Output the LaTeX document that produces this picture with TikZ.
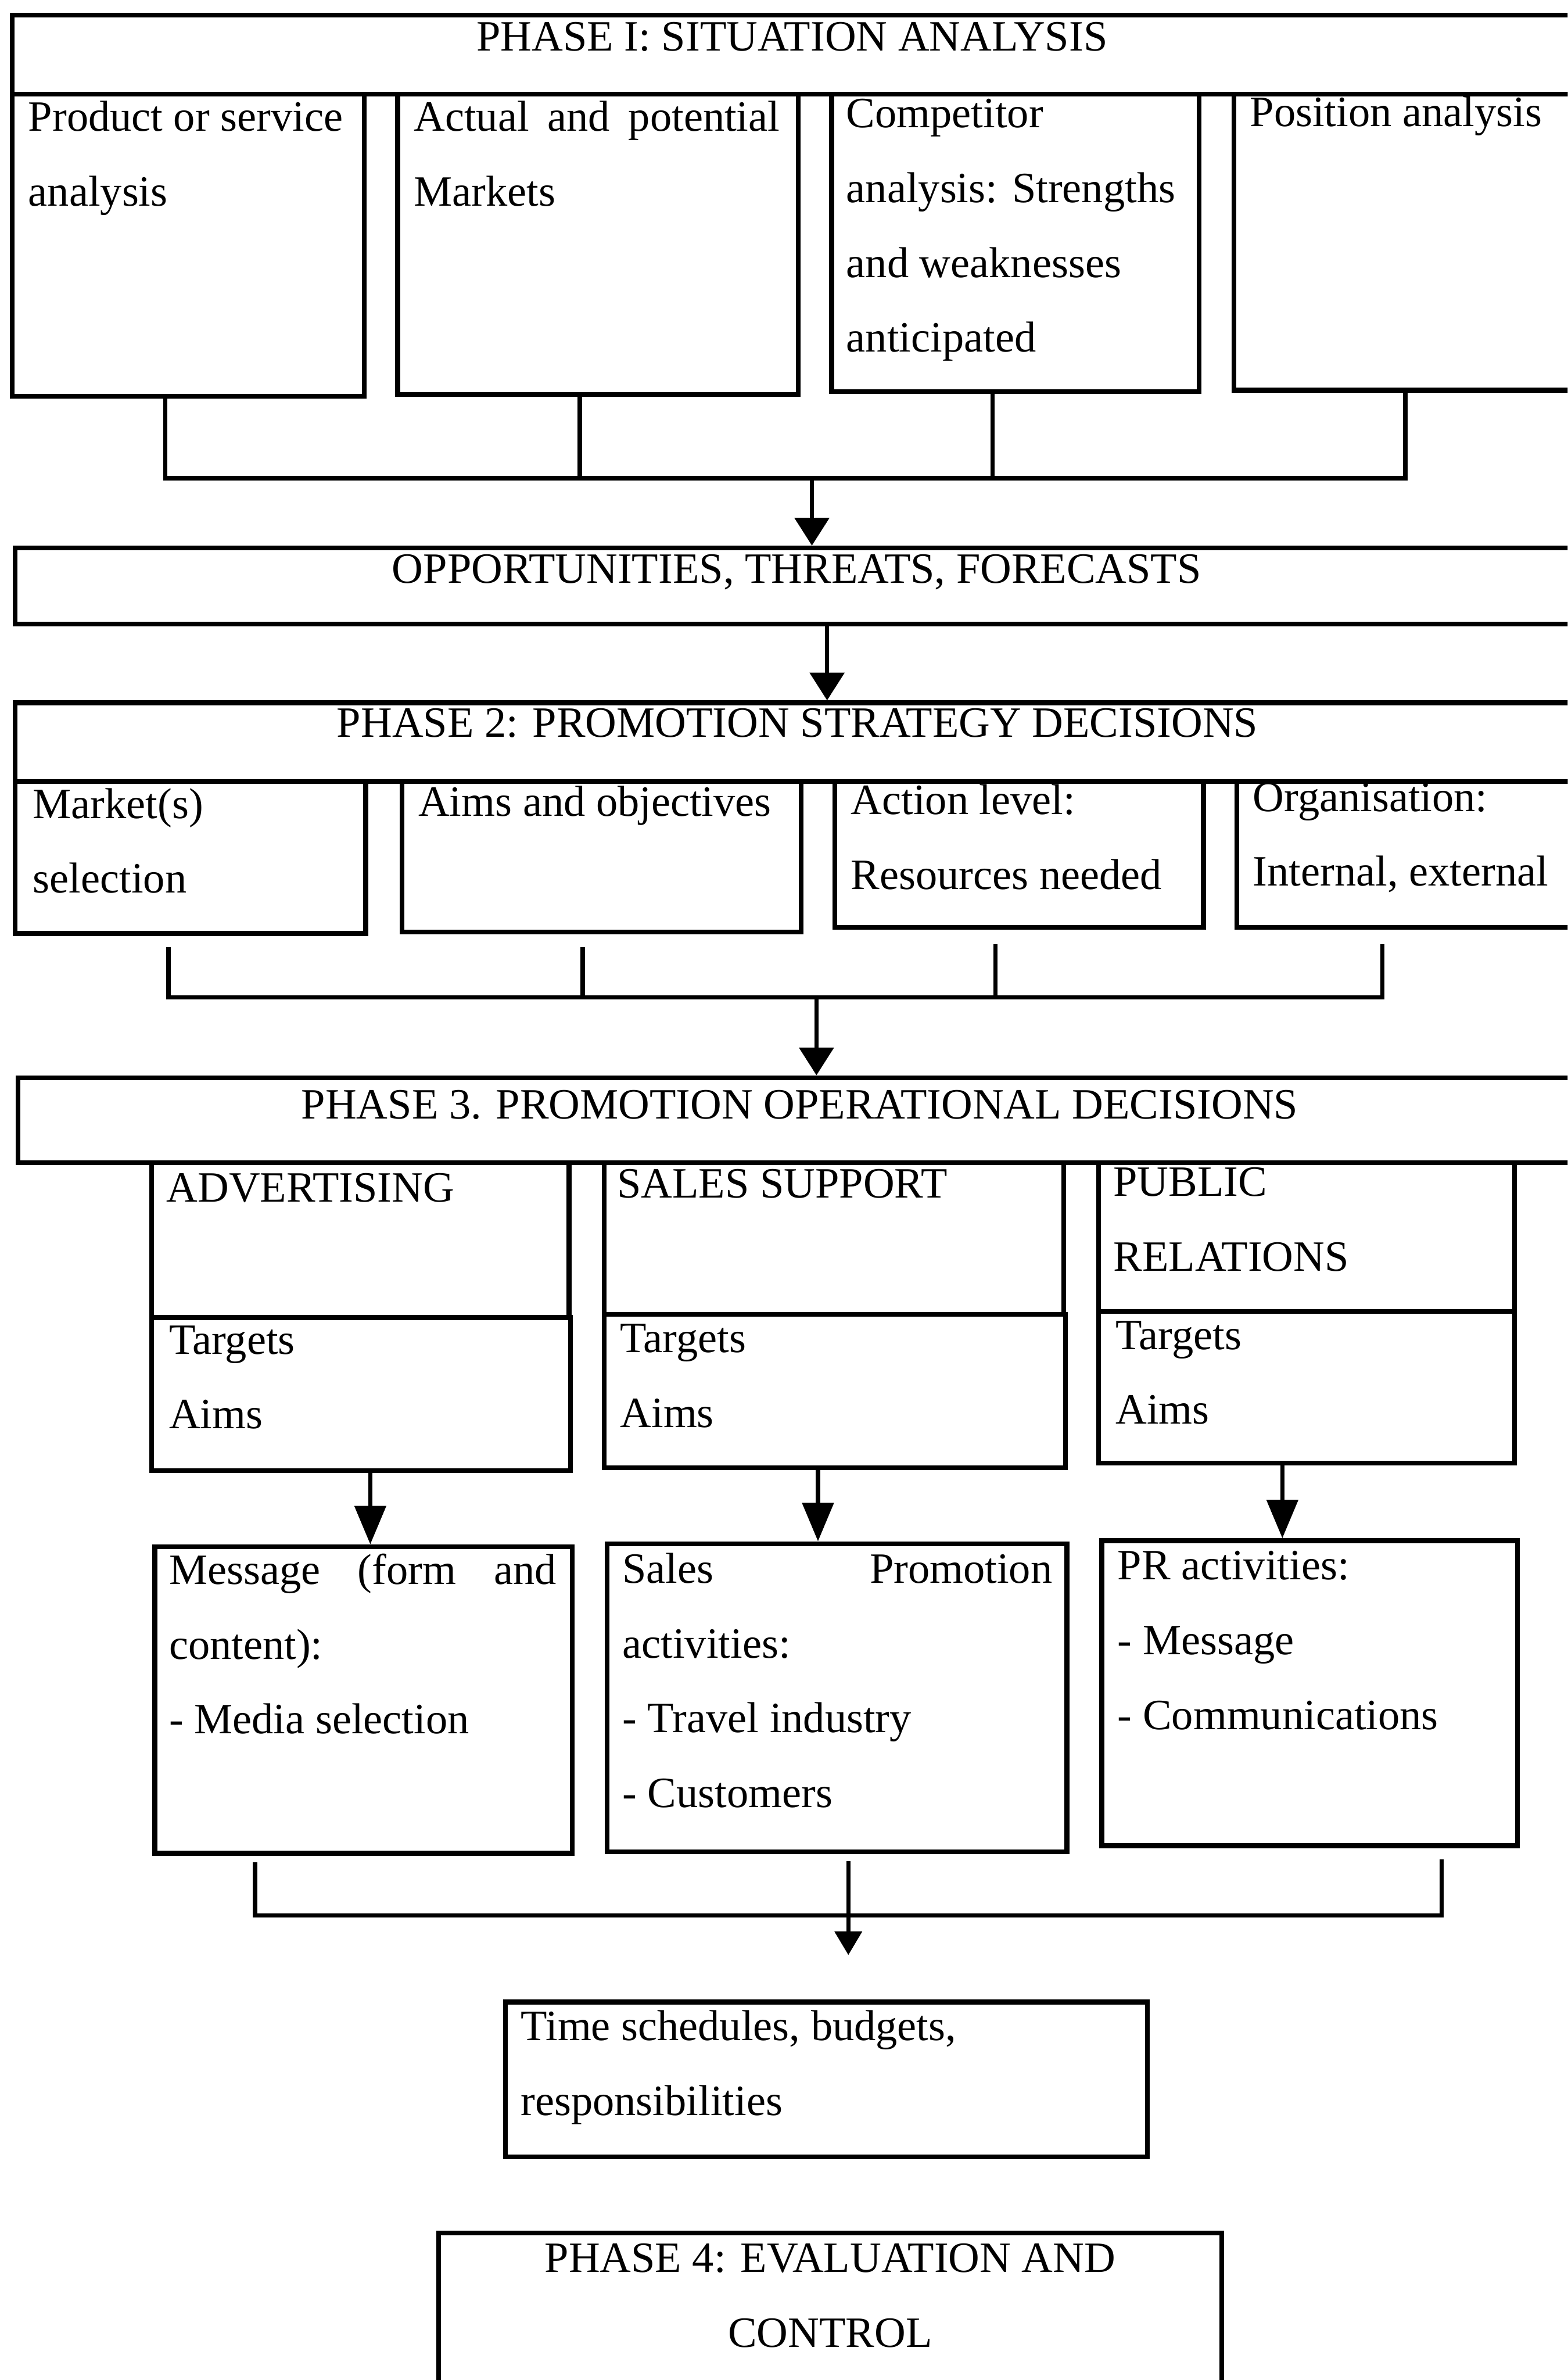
\documentclass[tikz,border=0pt]{standalone}
\usepackage{fontspec}
\setmainfont{Liberation Serif}
\usetikzlibrary{arrows.meta,fit}

% left-aligned block of lines, baseline on the first line
\newcommand{\txtlines}[2]{\parbox[t]{#1}{\raggedright #2}}
% centred block of lines, baseline on the first line
\newcommand{\ctrlines}[2]{\parbox[t]{#1}{\centering #2}}

\begin{document}
\begin{tikzpicture}[x=0.01cm, y=-0.01cm,
  box/.style={draw, line width=0.9pt, rectangle, inner sep=0pt, fit={#1}},
  txt/.style={inner sep=0pt, anchor=base west, font=\fontsize{8.1pt}{14pt}\selectfont},
  ttl/.style={txt, anchor=base},
  wire/.style={draw, line width=0.8pt},
  conn/.style={wire, -{Triangle[length=5.2pt, width=6.4pt]}},
  connlong/.style={wire, -{Triangle[length=7.2pt, width=5.8pt]}},
  connsmall/.style={wire, -{Triangle[length=4.4pt, width=5pt]}}]

\path[use as bounding box, fill=white] (0,0) rectangle (1033,1568);
\clip (0,0) rectangle (1033,1568);

% ---------------- Phase 1 ----------------
\node[box={(8,10) (1040,62)}] (ph1) {};
\node[ttl] (ph1t) at (522,33.5) {PHASE I: SITUATION ANALYSIS};

\node[box={(8,62) (240,261)}] (p1) {};
\node[txt] (p1t) at (18,86.3) {\txtlines{2.15cm}{Product or service\\analysis}};

\node[box={(262,62) (526,260)}] (p2) {};
\node[txt] (p2t) at (272,86.3) {\txtlines{2.41cm}{\makebox[\linewidth][s]{Actual and potential}\\Markets}};

\node[box={(548,62) (790,258)}] (p3) {};
\node[txt] (p3t) at (557,84.2) {\txtlines{2.25cm}{Competitor\\analysis: Strengths\\and weaknesses\\anticipated}};

\node[box={(813,62) (1040,257)}] (p4) {};
\node[txt] (p4t) at (823,83.2) {Position analysis};

\coordinate (bus1) at (535,315);
\draw[wire] (p1.south -| 109,0) |- (bus1);
\draw[wire] (p4.south -| 926,0) |- (bus1);
\draw[wire] (p2.south -| 382,0) -- (382,0 |- bus1);
\draw[wire] (p3.south -| 654,0) -- (654,0 |- bus1);

\node[box={(10,361) (1040,411)}] (opp) {};
\node[ttl] (oppt) at (525,384) {OPPORTUNITIES, THREATS, FORECASTS};
\draw[conn] (bus1) -- (bus1 |- opp.north);

% ---------------- Phase 2 ----------------
\node[box={(10,463) (1040,515)}] (ph2) {};
\node[ttl] (ph2t) at (525.5,485.5) {PHASE 2: PROMOTION STRATEGY DECISIONS};
\draw[conn] (opp.south -| 545,0) -- (545,0 |- ph2.north);

\node[box={(10,515) (241,615)}] (q1) {};
\node[txt] (q1t) at (21,539) {\txtlines{2.1cm}{Market(s)\\selection}};

\node[box={(265,515) (528,614)}] (q2) {};
\node[txt] (q2t) at (275,537.7) {Aims and objectives};

\node[box={(550,515) (793,611)}] (q3) {};
\node[txt] (q3t) at (560,536.5) {\txtlines{2.25cm}{Action level:\\Resources needed}};

\node[box={(815,515) (1040,611)}] (q4) {};
\node[txt] (q4t) at (825,534.5) {\txtlines{2.05cm}{Organisation:\\Internal, external}};

\coordinate (bus2) at (538,657);
\coordinate (d21) at (111,624);
\coordinate (d22) at (384,624);
\coordinate (d23) at (656,622);
\coordinate (d24) at (911,622);
\draw[wire] (d21) |- (bus2);
\draw[wire] (d24) |- (bus2);
\draw[wire] (d22) -- (d22 |- bus2);
\draw[wire] (d23) -- (d23 |- bus2);

% ---------------- Phase 3 ----------------
\node[box={(12,710) (1040,766)}] (ph3) {};
\node[ttl] (ph3t) at (527,737) {PHASE 3. PROMOTION OPERATIONAL DECISIONS};
\draw[conn] (bus2) -- (bus2 |- ph3.north);

\node[box={(100,766) (375,868)}] (a1) {};
\node[txt] (a1t) at (109,791.7) {ADVERTISING};
\node[box={(100,868) (376,969)}] (a2) {};
\node[txt] (a2t) at (110.7,892) {\txtlines{2.4cm}{Targets\\Aims}};

\node[box={(398,766) (701,866)}] (b1) {};
\node[txt] (b1t) at (406,789) {SALES SUPPORT};
\node[box={(398,866) (702,967)}] (b2) {};
\node[txt] (b2t) at (408,891) {\txtlines{2.6cm}{Targets\\Aims}};

\node[box={(724,766) (998,864)}] (c1) {};
\node[txt] (c1t) at (733,788) {\txtlines{2.4cm}{PUBLIC\\RELATIONS}};
\node[box={(724,864) (998,964)}] (c2) {};
\node[txt] (c2t) at (734.5,889) {\txtlines{2.4cm}{Targets\\Aims}};

\node[box={(102,1019) (377,1221)}] (m1) {};
\node[txt] (m1t) at (110.7,1043.8) {\txtlines{2.55cm}{\makebox[\linewidth][s]{Message (form and}\\content):\\- Media selection}};

\node[box={(400,1017) (703,1220)}] (m2) {};
\node[txt] (m2t) at (409.5,1043) {\txtlines{2.83cm}{\makebox[\linewidth][s]{Sales Promotion}\\activities:\\- Travel industry\\- Customers}};

\node[box={(726,1015) (1000,1216)}] (m3) {};
\node[txt] (m3t) at (735.8,1040.8) {\txtlines{2.4cm}{PR activities:\\- Message\\- Communications}};

\draw[connlong] (a2.south -| 244,0) -- (244,0 |- m1.north);
\draw[connlong] (b2.south -| 539,0) -- (539,0 |- m2.north);
\draw[connlong] (c2.south -| 845,0) -- (845,0 |- m3.north);

\coordinate (bus3) at (559,1262);
\coordinate (e1) at (168,1227);
\coordinate (e2) at (559,1226);
\coordinate (e3) at (950,1225);
\coordinate (etip) at (559,1288);
\draw[wire] (e1) |- (bus3) -| (e3);
\draw[connsmall] (e2) -- (etip);

\node[box={(333,1319) (756,1421)}] (tb) {};
\node[txt] (tbt) at (342.5,1344.2) {\txtlines{3.9cm}{Time schedules, budgets,\\responsibilities}};

% ---------------- Phase 4 ----------------
\node[box={(289,1471) (805,1640)}] (ph4) {};
\node[ttl] (ph4t) at (547,1497) {\ctrlines{4.6cm}{PHASE 4: EVALUATION AND\\CONTROL}};

\end{tikzpicture}
\end{document}
